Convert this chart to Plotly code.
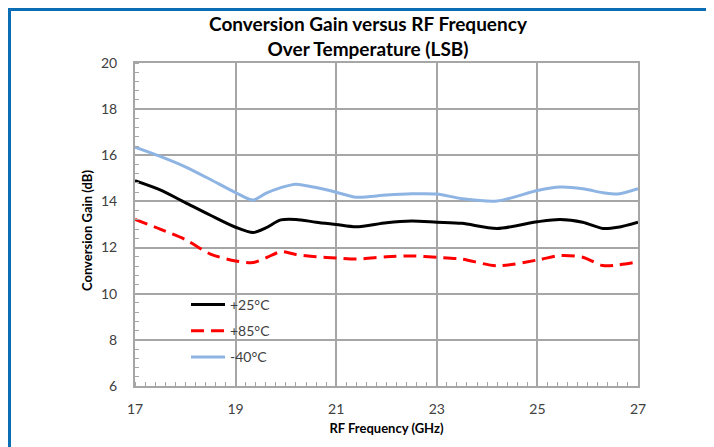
import plotly.graph_objects as go

freq = [17, 17.5, 18, 18.5, 19, 19.35, 19.6, 19.9, 20.2, 20.6, 21, 21.4, 22, 22.5, 23,
        23.5, 24.2, 25, 25.45, 25.9, 26.3, 26.6, 27]
gain_25 = [14.9, 14.5, 13.95, 13.4, 12.88, 12.65, 12.85, 13.2, 13.22, 13.1, 13.0, 12.9, 13.08, 13.15, 13.1,
           13.05, 12.83, 13.12, 13.22, 13.1, 12.83, 12.88, 13.1]
gain_85 = [13.22, 12.8, 12.35, 11.72, 11.42, 11.35, 11.55, 11.82, 11.7, 11.6, 11.55, 11.5, 11.6, 11.64, 11.58,
           11.5, 11.21, 11.46, 11.65, 11.58, 11.22, 11.25, 11.38]
gain_m40 = [16.35, 15.95, 15.5, 14.95, 14.38, 14.06, 14.35, 14.6, 14.75, 14.6, 14.4, 14.18, 14.28, 14.33, 14.32,
            14.12, 14.02, 14.47, 14.62, 14.55, 14.38, 14.32, 14.55]
x_ticks = [17, 19, 21, 23, 25, 27]
y_ticks = [6, 8, 10, 12, 14, 16, 18, 20]

OFF = 8  # page body margin
W, H = 714 - OFF, 447 - OFF
ML, MR, MT, MB = 135 - OFF, 76, 63 - OFF, 61
PW, PH = W - ML - MR, H - MT - MB

def px_x(p):  # page pixel -> paper x
    return (p - OFF - ML) / PW

def px_y(p):  # page pixel -> paper y
    return (H - MB - (p - OFF)) / PH

FONT = "Lato"
fig = go.Figure()
fig.add_trace(go.Scatter(x=freq, y=gain_25, name="+25°C", mode="lines", legendgroup="a",
                         line=dict(color="#000000", width=3, shape="spline", smoothing=0.8)))
fig.add_trace(go.Scatter(x=freq, y=gain_85, name="+85°C", mode="lines", legendgroup="b",
                         line=dict(color="#ff0000", width=3, dash="13px,7px", shape="spline", smoothing=0.8)))
fig.add_trace(go.Scatter(x=freq, y=gain_m40, name="-40°C", mode="lines", legendgroup="c",
                         line=dict(color="#8eb4e3", width=3, shape="spline", smoothing=0.8)))

grid = "#a6a6a6"
fig.update_layout(
    width=W, height=H,
    margin=dict(l=ML, r=MR, t=MT, b=MB, pad=0),
    paper_bgcolor="white", plot_bgcolor="white",
    font=dict(family=FONT, color="#404040", size=14),
    title=dict(text="<b>Conversion Gain versus RF Frequency<br>Over Temperature (LSB)</b>",
               x=(368 - OFF) / W, xanchor="center", y=1 - 23 / H, yanchor="top",
               font=dict(family=FONT, size=19, color="#000000")),
    showlegend=True,
    legend=dict(x=px_x(186), y=px_y(289), xanchor="left", yanchor="top", bgcolor="rgba(0,0,0,0)",
                font=dict(family=FONT, size=14, color="#404040"),
                itemwidth=34, tracegroupgap=5),
    xaxis=dict(range=[17, 27], tickvals=x_ticks, showgrid=True, gridcolor=grid, gridwidth=1.5,
               showline=True, linecolor=grid, linewidth=2, mirror=True, zeroline=False,
               ticks="", ticklabelstandoff=9,
               minor=dict(dtick=0.2, ticks="inside", ticklen=4, tickcolor=grid, showgrid=False),
               title=dict(text="<b>RF Frequency (GHz)</b>", font=dict(family=FONT, size=13, color="#000000"),
                          standoff=8)),
    yaxis=dict(range=[6, 20], tickvals=y_ticks, showgrid=True, gridcolor=grid, gridwidth=1.5,
               showline=True, linecolor=grid, linewidth=2, mirror=True, zeroline=False,
               ticks="", ticklabelstandoff=13,
               minor=dict(dtick=0.4, ticks="inside", ticklen=4, tickcolor=grid, showgrid=False)),
)

# y-axis title placed as in the reference
fig.add_annotation(text="<b>Conversion Gain (dB)</b>", textangle=-90, showarrow=False,
                   xref="paper", yref="paper", x=px_x(87), y=px_y(231),
                   xanchor="center", yanchor="middle",
                   font=dict(family=FONT, size=13, color="#000000"))

# white legend box hiding gridlines (between gridlines and traces)
fig.add_shape(type="rect", xref="paper", yref="paper", layer="between",
              x0=px_x(172), x1=px_x(288), y0=px_y(370), y1=px_y(293),
              fillcolor="white", line=dict(width=0))

# blue frame lines (top and left) at the figure's edges
blue = "#0b6db4"
fig.add_shape(type="line", xref="paper", yref="paper", x0=px_x(OFF), x1=px_x(714 + 5),
              y0=px_y(OFF + 1.5), y1=px_y(OFF + 1.5), line=dict(color=blue, width=3))
fig.add_shape(type="line", xref="paper", yref="paper", x0=px_x(OFF + 1.5), x1=px_x(OFF + 1.5),
              y0=px_y(OFF), y1=px_y(447 + 5), line=dict(color=blue, width=3))

fig.write_html("out.html")
